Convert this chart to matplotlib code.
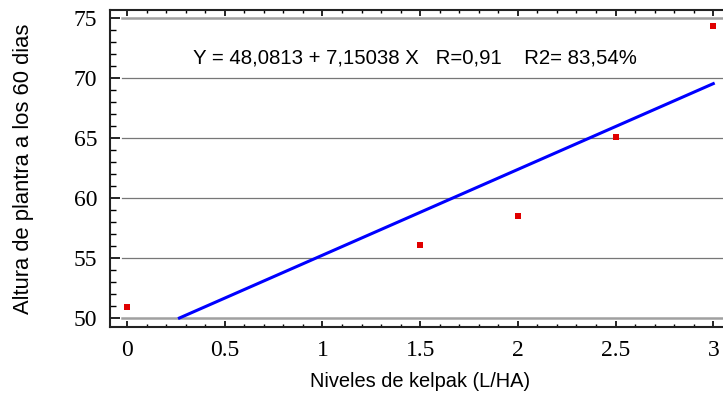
import numpy as np
import matplotlib.pyplot as plt
from matplotlib.ticker import MultipleLocator

# datos
niveles = [0, 1.5, 2, 2.5, 3]
altura = [50.9, 56.1, 58.5, 65.1, 74.3]
b0 = 48.0813
b1 = 7.15038
ecuacion = 'Y = 48,0813 + 7,15038 X   R=0,91    R2= 83,54%'

fig = plt.figure(figsize=(7.23, 4.05), dpi=100)
ax = fig.add_axes([110/723, 78/405, 615/723, 317/405])

# recta de regresion desde Y=50 hasta X=3
x0 = (50 - b0) / b1
xr = np.linspace(x0, 3, 50)
ax.plot(xr, b0 + b1 * xr, color='#0000ff', lw=2.2, zorder=3)
ax.scatter(niveles, altura, marker='s', s=24, color='#e00000', zorder=4, linewidths=0)

for yv in [55, 60, 65, 70]:
    ax.axhline(yv, xmin=0.02, color='#777777', lw=0.9, zorder=1)
for yv in [50, 75]:
    ax.axhline(yv, xmin=0.02, color='#a0a0a0', lw=1.8, zorder=1)

ax.set_xlim(-0.087, 3.06)
ax.set_ylim(49.25, 75.67)
ax.xaxis.set_major_locator(MultipleLocator(0.5))
ax.xaxis.set_minor_locator(MultipleLocator(0.1))
ax.yaxis.set_major_locator(MultipleLocator(5))
ax.yaxis.set_minor_locator(MultipleLocator(1))
ax.set_xticks([0, 0.5, 1, 1.5, 2, 2.5, 3])
ax.set_xticklabels(['0', '0.5', '1', '1.5', '2', '2.5', '3'])

ax.tick_params(axis='x', which='major', direction='in', length=4.5, width=1.2,
               top=True, pad=9, labelsize=17)
ax.tick_params(axis='x', which='minor', direction='in', length=2.2, width=1, top=True)
ax.tick_params(axis='y', which='major', direction='in', length=7, width=1.2,
               pad=9, labelsize=17)
ax.tick_params(axis='y', which='minor', direction='in', length=4.5, width=1)
for lab in ax.get_xticklabels() + ax.get_yticklabels():
    lab.set_family('Liberation Serif')

for s in ax.spines.values():
    s.set_linewidth(1.5)
    s.set_color('#222222')

fam = ['Liberation Sans', 'DejaVu Sans']
ax.set_xlabel('Niveles de kelpak (L/HA)', family=fam, fontsize=14.4)
ax.set_ylabel('Altura de plantra a los 60 dias', family=fam, fontsize=15.8)
ax.xaxis.set_label_coords(0.504, -0.142)
ax.yaxis.set_label_coords(-0.1236, 0.5)
ax.text(1.473, 71.67, ecuacion, family=fam, fontsize=14.7, ha='center', va='center')

fig.savefig('out.png', dpi=100)
